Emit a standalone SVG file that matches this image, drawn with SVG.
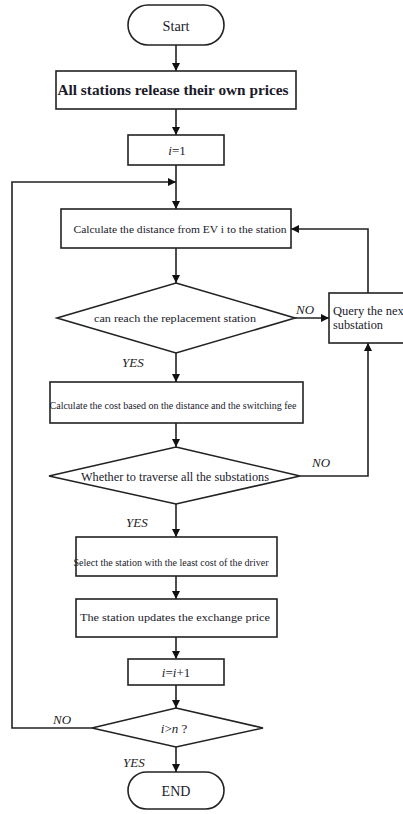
<svg xmlns="http://www.w3.org/2000/svg" width="403" height="814" viewBox="0 0 403 814">
<defs>
<marker id="ah" viewBox="0 0 10 10" refX="10" refY="5" markerWidth="8" markerHeight="8" markerUnits="userSpaceOnUse" orient="auto">
<path d="M0,0 L10,5 L0,10 z" fill="#111"/>
</marker>
<style>
.n{fill:#fff;stroke:#222;stroke-width:1.6}
.t{font-family:"Liberation Serif","Times New Roman",serif;fill:#1a1a2a;text-anchor:middle}
.q{font-family:"Liberation Serif","Times New Roman",serif;fill:#1a1a2a;font-size:12.5px}
.l{font-family:"Liberation Serif","Times New Roman",serif;font-style:italic;fill:#222;font-size:13px}
.c{fill:none;stroke:#222;stroke-width:1.6}
</style>
</defs>
<rect width="403" height="814" fill="#fff"/>
<g id="connectors">
<path class="c" d="M176,45 V71" marker-end="url(#ah)"/>
<path class="c" d="M176,109 V135" marker-end="url(#ah)"/>
<path class="c" d="M176,165 V209" marker-end="url(#ah)"/>
<path class="c" d="M92,728 H12 V182 H176" marker-end="url(#ah)"/>
<path class="c" d="M176,248 V283" marker-end="url(#ah)"/>
<path class="c" d="M295,318 H329" marker-end="url(#ah)"/>
<path class="c" d="M368,293 V229 H291" marker-end="url(#ah)"/>
<path class="c" d="M176,353 V382" marker-end="url(#ah)"/>
<path class="c" d="M176,423 V447" marker-end="url(#ah)"/>
<path class="c" d="M300,476 H368 V343" marker-end="url(#ah)"/>
<path class="c" d="M176,504 V537" marker-end="url(#ah)"/>
<path class="c" d="M176,576 V599" marker-end="url(#ah)"/>
<path class="c" d="M176,637 V659" marker-end="url(#ah)"/>
<path class="c" d="M176,685 V708" marker-end="url(#ah)"/>
<path class="c" d="M176,747 V772" marker-end="url(#ah)"/>
<text class="l" x="296" y="314">NO</text>
<text class="l" x="122" y="367">YES</text>
<text class="l" x="312" y="467">NO</text>
<text class="l" x="126" y="527">YES</text>
<text class="l" x="53" y="724">NO</text>
<text class="l" x="123" y="767">YES</text>
</g>
<g id="start">
<rect class="n" x="128" y="5" width="96" height="40" rx="20"/>
<text class="t" x="176" y="31" font-size="14" textLength="27" lengthAdjust="spacingAndGlyphs">Start</text>
</g>
<g id="release">
<rect class="n" x="56" y="71" width="240" height="38"/>
<text class="t" x="173" y="95" font-size="14" font-weight="bold" textLength="231" lengthAdjust="spacingAndGlyphs">All stations release their own prices</text>
</g>
<g id="init">
<rect class="n" x="128" y="135" width="96" height="30"/>
<text class="t" x="177" y="155" font-size="13"><tspan font-style="italic">i</tspan>=1</text>
</g>
<g id="calcdist">
<rect class="n" x="61" y="209" width="230" height="39"/>
<text class="t" x="180" y="233" font-size="11" textLength="213" lengthAdjust="spacingAndGlyphs">Calculate the distance from EV i to the station</text>
</g>
<g id="reach">
<polygon class="n" points="176,283 295,318 176,353 57,318"/>
<text class="t" x="175" y="322" font-size="11" textLength="162" lengthAdjust="spacingAndGlyphs">can reach the replacement station</text>
</g>
<g id="query">
<rect class="n" x="329" y="293" width="90" height="50"/>
<text class="q" x="333" y="315">Query the next</text>
<text class="q" x="333" y="329" textLength="50" lengthAdjust="spacingAndGlyphs">substation</text>
</g>
<g id="cost">
<rect class="n" x="50" y="382" width="253" height="41"/>
<text class="t" x="173" y="409" font-size="10" textLength="247" lengthAdjust="spacingAndGlyphs">Calculate the cost based on the distance and the switching fee</text>
</g>
<g id="traverse">
<polygon class="n" points="176,447 300,476 176,504 49,476"/>
<text class="t" x="175" y="481" font-size="13" textLength="188" lengthAdjust="spacingAndGlyphs">Whether to traverse all the substations</text>
</g>
<g id="select">
<rect class="n" x="76" y="537" width="201" height="39"/>
<text class="t" x="171" y="566" font-size="10" textLength="195" lengthAdjust="spacingAndGlyphs">Select the station with the least cost of the driver</text>
</g>
<g id="update">
<rect class="n" x="76" y="599" width="201" height="38"/>
<text class="t" x="175" y="621" font-size="11" textLength="190" lengthAdjust="spacingAndGlyphs">The station updates the exchange price</text>
</g>
<g id="incr">
<rect class="n" x="128" y="659" width="96" height="26"/>
<text class="t" x="176" y="677" font-size="13"><tspan font-style="italic">i</tspan>=<tspan font-style="italic">i</tspan>+1</text>
</g>
<g id="check">
<polygon class="n" points="176,708 263,728 176,747 92,728"/>
<text class="t" x="174" y="733" font-size="13"><tspan font-style="italic">i</tspan>&gt;<tspan font-style="italic">n</tspan> ?</text>
</g>
<g id="end">
<rect class="n" x="128" y="772" width="96" height="37" rx="18.5"/>
<text class="t" x="176" y="796" font-size="14">END</text>
</g>
</svg>
